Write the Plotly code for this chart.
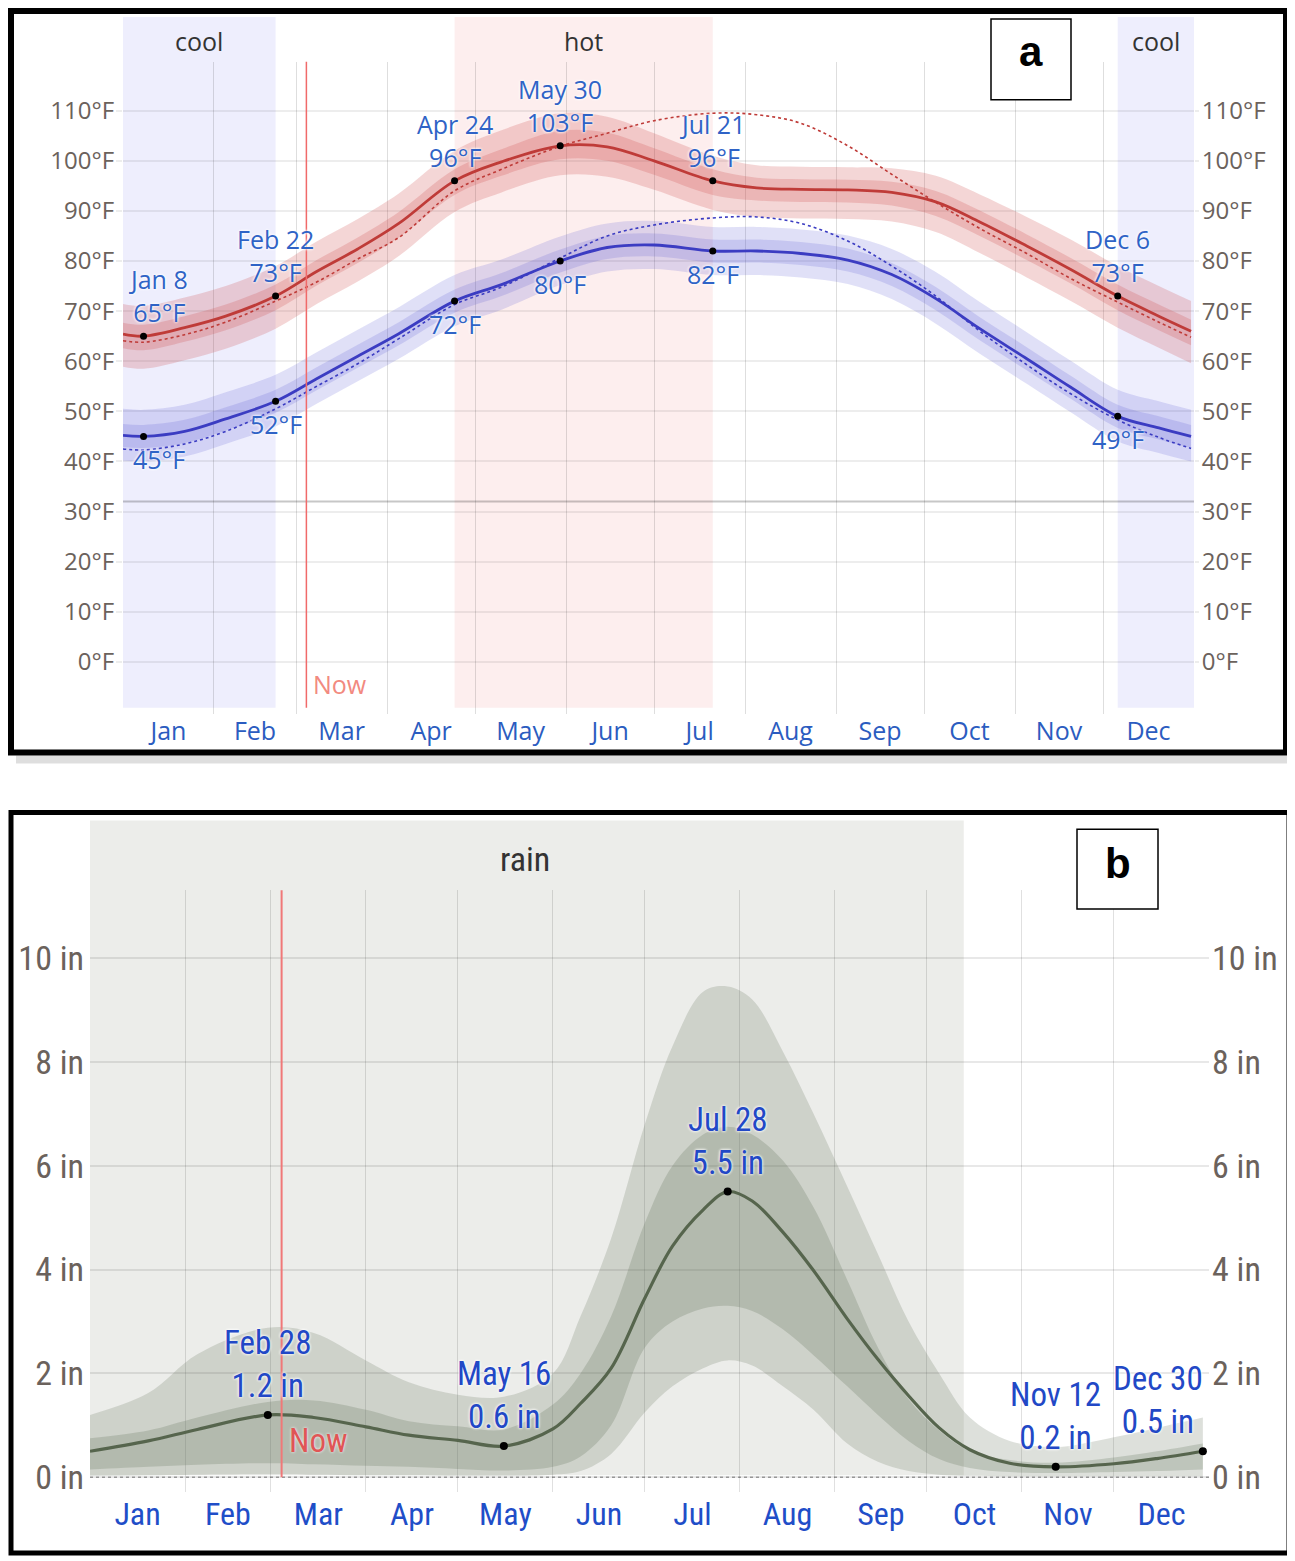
import plotly.graph_objects as go

# page body has an 8px margin, so the figure is drawn 8px smaller and coordinates are offset
OFF = 8
W, H = 1287, 1553

# ---------------- data: panel a (temperature, °F) ----------------
temp_dates = ["2023-01-01", "2023-01-08", "2023-01-22", "2023-02-05", "2023-02-22", "2023-03-08",
              "2023-03-22", "2023-04-05", "2023-04-24", "2023-05-10", "2023-05-30", "2023-06-15",
              "2023-07-01", "2023-07-21", "2023-08-05", "2023-08-20", "2023-09-05", "2023-09-20",
              "2023-10-05", "2023-10-20", "2023-11-05", "2023-11-20", "2023-12-06", "2023-12-20",
              "2023-12-31"]
high_avg = [65.4, 65, 66.7, 69, 73, 77.9, 82.4, 87.5, 96, 99.8, 103, 102.8, 100, 96, 94.6, 94.3,
            94.2, 93.7, 91.8, 87.8, 83, 78.3, 73, 69, 66]
high_p90 = [71.4, 71, 72.7, 75, 79, 83.9, 88.4, 93.5, 102, 106.1, 109.5, 108.8, 105.5, 101, 99.1,
            98.8, 98.7, 98.5, 97, 93.3, 88.8, 84.3, 79, 75, 72]
high_p75 = [67.7, 67.3, 69, 71.3, 75.3, 80.2, 84.7, 89.8, 98.3, 102.3, 106, 105.6, 102.5, 98.3,
            96.6, 96.3, 96.2, 95.8, 94, 90.1, 85.3, 80.6, 75.3, 71.3, 68.3]
high_p25 = [62.6, 62.2, 63.9, 66.2, 70.2, 75.1, 79.6, 84.7, 93.2, 97, 100.3, 100, 97.2, 93.2,
            92.1, 91.8, 91.7, 91.1, 89, 85, 80.2, 75.5, 70.2, 66.2, 63.2]
high_p10 = [58.9, 58.5, 60.2, 62.5, 66.5, 71.4, 75.9, 81, 89.8, 93.7, 97.1, 96.8, 94.2, 90.2,
            88.8, 88.5, 88.4, 87.9, 85.8, 81.6, 76.7, 72, 66.7, 62.7, 59.6]
low_avg = [45.2, 45, 46, 48.5, 52, 56.5, 61, 65.5, 72, 75.3, 80, 82.7, 83.2, 82, 82, 81.5, 80.2,
           77.3, 72.5, 66.5, 60.5, 54.8, 49, 46.7, 45]
low_p90 = [50.5, 50.3, 51.3, 53.8, 57.3, 61.8, 66.3, 70.8, 77.2, 80.3, 84.9, 87.5, 88, 86.8, 86.8,
           86.3, 85.1, 82.4, 77.8, 71.8, 65.8, 60.1, 54.3, 52, 50.3]
low_p75 = [47.5, 47.3, 48.3, 50.8, 54.3, 58.8, 63.3, 67.8, 74.3, 77.6, 82.3, 85, 85.5, 84.3, 84.3,
           83.8, 82.5, 79.6, 74.8, 68.8, 62.8, 57.1, 51.3, 49, 47.3]
low_p25 = [42.9, 42.7, 43.7, 46.2, 49.7, 54.2, 58.7, 63.2, 69.7, 73, 77.7, 80.4, 80.9, 79.7, 79.7,
           79.2, 77.9, 75, 70.2, 64.2, 58.2, 52.5, 46.7, 44.4, 42.7]
low_p10 = [40.2, 40, 41, 43.5, 47, 51.5, 56, 60.5, 67, 70.3, 75.2, 77.9, 78.4, 77.2, 77.2, 76.7,
           75.4, 72.4, 67.5, 61.5, 55.5, 49.8, 44, 41.7, 40]
feels_high = [64.1, 63.8, 65.3, 67.8, 72, 75.8, 80.4, 84.7, 94, 98.3, 102.9, 105.5, 108, 109.5,
              109.2, 107.5, 103, 97.3, 91.7, 86.5, 81.5, 76.5, 71.8, 67.8, 64.8]
feels_low = [42.5, 42.3, 43.5, 46, 50.5, 55, 59.5, 64.5, 71.3, 74.8, 80.6, 85, 87.2, 88.6, 88.8,
             87.5, 84, 79, 73, 66, 59.3, 53.5, 48.3, 44.8, 42.6]

temp_label_dates = ["2023-01-08", "2023-02-22", "2023-04-24", "2023-05-30", "2023-07-21", "2023-12-06"]
temp_label_names = ["Jan 8", "Feb 22", "Apr 24", "May 30", "Jul 21", "Dec 6"]
high_label_vals = [65, 73, 96, 103, 96, 73]
low_label_vals = [45, 52, 72, 80, 82, 49]

temp_ticks = [0, 10, 20, 30, 40, 50, 60, 70, 80, 90, 100, 110]
temp_tick_labels = ["0°F", "10°F", "20°F", "30°F", "40°F", "50°F", "60°F", "70°F", "80°F",
                    "90°F", "100°F", "110°F"]
freezing_f = 32

cool_seasons = [("2023-01-01", "2023-02-22"), ("2023-12-06", "2024-01-01")]
hot_season = ("2023-04-24", "2023-07-21")
season_labels = [("2023-01-27", "cool"), ("2023-06-07", "hot"), ("2023-12-19", "cool")]
now_date = "2023-03-04 12:00"

# ---------------- data: panel b (rainfall, inches) ----------------
rain_dates = ["2023-01-01", "2023-01-20", "2023-02-05", "2023-02-28", "2023-03-15", "2023-04-01",
              "2023-04-15", "2023-05-01", "2023-05-16", "2023-06-01", "2023-06-10", "2023-06-20",
              "2023-07-01", "2023-07-10", "2023-07-20", "2023-07-28", "2023-08-05", "2023-08-15",
              "2023-08-25", "2023-09-05", "2023-09-15", "2023-09-25", "2023-10-05", "2023-10-15",
              "2023-10-28", "2023-11-12", "2023-12-01", "2023-12-15", "2023-12-30"]
rain_avg = [0.5, 0.7, 0.92, 1.2, 1.15, 0.97, 0.81, 0.71, 0.6, 0.93, 1.42, 2.1, 3.45, 4.45, 5.15,
            5.5, 5.32, 4.72, 3.98, 3.05, 2.27, 1.57, 0.95, 0.53, 0.27, 0.2, 0.26, 0.36, 0.5]
rain_p90 = [1.2, 1.62, 2.37, 2.88, 2.78, 2.25, 1.83, 1.59, 1.55, 2.0, 3.1, 4.6, 6.8, 8.3, 9.35,
            9.45, 9.2, 8.2, 7.0, 5.6, 4.3, 3.0, 2.0, 1.15, 0.7, 0.58, 0.77, 0.95, 1.15]
rain_p75 = [0.75, 0.9, 1.15, 1.45, 1.48, 1.3, 1.08, 0.98, 0.92, 1.4, 2.0, 3.1, 4.9, 6.0, 6.6,
            6.75, 6.6, 6.1, 5.2, 3.8, 2.5, 1.5, 0.9, 0.5, 0.33, 0.28, 0.38, 0.5, 0.65]
rain_p25 = [0.15, 0.2, 0.24, 0.27, 0.25, 0.22, 0.2, 0.16, 0.13, 0.2, 0.4, 1.0, 2.5, 3.0, 3.25,
            3.3, 3.2, 2.85, 2.35, 1.75, 1.2, 0.7, 0.35, 0.18, 0.1, 0.08, 0.1, 0.12, 0.15]
rain_p10 = [0.03, 0.04, 0.05, 0.06, 0.05, 0.04, 0.04, 0.03, 0.03, 0.05, 0.12, 0.45, 1.25, 1.75,
            2.1, 2.25, 2.15, 1.75, 1.3, 0.65, 0.3, 0.12, 0.05, 0.03, 0.02, 0.02, 0.02, 0.02, 0.02]

rain_label_dates = ["2023-02-28", "2023-05-16", "2023-07-28", "2023-11-12", "2023-12-30"]
rain_label_names = ["Feb 28", "May 16", "Jul 28", "Nov 12", "Dec 30"]
rain_label_vals = [1.2, 0.6, 5.5, 0.2, 0.5]

rain_ticks = [0, 2, 4, 6, 8, 10]
rain_tick_labels = ["0 in", "2 in", "4 in", "6 in", "8 in", "10 in"]
rain_season = ("2023-01-01", "2023-10-13")
rain_season_label = ("2023-05-23", "rain")

# ---------------- styling ----------------
FA = "Open Sans, Noto Sans, sans-serif"
FB = "Roboto Condensed, Liberation Sans Narrow, DejaVu Sans Condensed, Open Sans, sans-serif"
FBOX = "Liberation Sans, Arial, sans-serif"
RED = "#bf3b38"
BLUE = "#3b3cc2"
GREEN = "#56654d"
TICK_GRAY = "#6b625c"
LBL_A = "#2f63c6"
LBL_B = "#2248c6"
SB_TICK, SB_MONTH, SB_LABEL = 34, 32, 33


def py(p):
    return 1 - (p - OFF) / H


def px(p):
    return (p - OFF) / W


fig = go.Figure()


def add_band(x, lo, hi, color, xa, ya):
    fig.add_trace(go.Scatter(x=x, y=lo, mode="lines", line=dict(width=0, shape="spline"),
                             xaxis=xa, yaxis=ya, showlegend=False, hoverinfo="skip"))
    fig.add_trace(go.Scatter(x=x, y=hi, mode="lines", line=dict(width=0, shape="spline"),
                             fill="tonexty", fillcolor=color, xaxis=xa, yaxis=ya,
                             showlegend=False, hoverinfo="skip"))


add_band(temp_dates, high_p10, high_p90, "rgba(205,70,70,0.22)", "x", "y")
add_band(temp_dates, high_p25, high_p75, "rgba(205,70,70,0.22)", "x", "y")
add_band(temp_dates, low_p10, low_p90, "rgba(70,70,205,0.17)", "x", "y")
add_band(temp_dates, low_p25, low_p75, "rgba(70,70,205,0.17)", "x", "y")

for vals, col in [(feels_high, RED), (feels_low, BLUE)]:
    fig.add_trace(go.Scatter(x=temp_dates, y=vals, mode="lines",
                             line=dict(color=col, width=1.6, dash="dot", shape="spline"),
                             xaxis="x", yaxis="y", showlegend=False, hoverinfo="skip"))
for vals, col in [(high_avg, RED), (low_avg, BLUE)]:
    fig.add_trace(go.Scatter(x=temp_dates, y=vals, mode="lines",
                             line=dict(color=col, width=2.8, shape="spline"),
                             xaxis="x", yaxis="y", showlegend=False))
fig.add_trace(go.Scatter(x=temp_label_dates + temp_label_dates, y=high_label_vals + low_label_vals,
                         mode="markers", marker=dict(color="black", size=7),
                         xaxis="x", yaxis="y", showlegend=False))
fig.add_trace(go.Scatter(x=[temp_dates[0]], y=[None], xaxis="x", yaxis="y3", showlegend=False,
                         hoverinfo="skip"))

add_band(rain_dates, rain_p10, rain_p90, "rgba(100,115,90,0.22)", "x2", "y2")
add_band(rain_dates, rain_p25, rain_p75, "rgba(100,115,90,0.25)", "x2", "y2")
fig.add_trace(go.Scatter(x=rain_dates, y=rain_avg, mode="lines",
                         line=dict(color=GREEN, width=3.2, shape="spline"),
                         xaxis="x2", yaxis="y2", showlegend=False))
fig.add_trace(go.Scatter(x=rain_label_dates, y=rain_label_vals, mode="markers",
                         marker=dict(color="black", size=8), xaxis="x2", yaxis="y2",
                         showlegend=False))
fig.add_trace(go.Scatter(x=[rain_dates[0]], y=[None], xaxis="x2", yaxis="y4", showlegend=False,
                         hoverinfo="skip"))

date_axis = dict(type="date", tickmode="linear", tick0="2023-01-01", dtick="M1",
                 ticklabelmode="period", tickformat="%b", showgrid=True, zeroline=False,
                 showline=False, ticks="", fixedrange=True)

temp_range = [(664 - 716) / 5.027, (664 - 62) / 5.027]
rain_range = [-0.288, 11.305]

fig.update_layout(
    width=W, height=H, autosize=False,
    margin=dict(l=0, r=0, t=0, b=0),
    paper_bgcolor="white", plot_bgcolor="rgba(0,0,0,0)",
    showlegend=False,
    xaxis=dict(date_axis, domain=[px(123), px(1194)], anchor="y",
               range=["2023-01-01", "2024-01-01"],
               gridcolor="rgba(0,0,0,0.13)", gridwidth=1,
               tickfont=dict(family=FA, size=25, color="#2b5cc0")),
    yaxis=dict(domain=[py(716), py(62)], range=temp_range, anchor="x",
               tickmode="array", tickvals=temp_ticks, ticktext=temp_tick_labels,
               showgrid=True, gridcolor="rgba(0,0,0,0.07)", gridwidth=2, zeroline=False,
               ticks="outside", ticklen=6, tickwidth=2, tickcolor="rgba(0,0,0,0.07)",
               ticklabelstandoff=-3,
               tickfont=dict(family=FA, size=24, color=TICK_GRAY), fixedrange=True),
    yaxis3=dict(overlaying="y", side="right", anchor="x", range=temp_range,
                tickmode="array", tickvals=temp_ticks, ticktext=temp_tick_labels,
                showgrid=False, zeroline=False, ticks="outside", ticklen=4, tickwidth=2,
                tickcolor="rgba(0,0,0,0.07)", ticklabelstandoff=-2,
                tickfont=dict(family=FA, size=24, color=TICK_GRAY), fixedrange=True),
    xaxis2=dict(date_axis, domain=[px(90), px(1209)], anchor="y2",
                range=["2023-01-01", "2024-01-01"],
                gridcolor="rgba(0,0,0,0.12)", gridwidth=1,
                tickfont=dict(family=FB, size=SB_MONTH, color="#1f4ec8")),
    yaxis2=dict(domain=[py(1497), py(893)], range=rain_range, anchor="x2",
                tickmode="array", tickvals=rain_ticks, ticktext=rain_tick_labels,
                showgrid=True, gridcolor="rgba(0,0,0,0.09)", gridwidth=2, zeroline=False,
                ticks="", ticklabelstandoff=5,
                tickfont=dict(family=FB, size=SB_TICK, color=TICK_GRAY), fixedrange=True),
    yaxis4=dict(overlaying="y2", side="right", anchor="x2", range=rain_range,
                tickmode="array", tickvals=rain_ticks, ticktext=rain_tick_labels,
                showgrid=False, zeroline=False, ticks="", ticklabelstandoff=2,
                tickfont=dict(family=FB, size=SB_TICK, color=TICK_GRAY), fixedrange=True),
)

shapes = []
for s0, s1 in cool_seasons:
    shapes.append(dict(type="rect", xref="x", yref="paper", x0=s0, x1=s1, y0=py(710), y1=py(17),
                       fillcolor="#eeeefd", line=dict(width=0), layer="below"))
shapes.append(dict(type="rect", xref="x", yref="paper", x0=hot_season[0], x1=hot_season[1],
                   y0=py(710), y1=py(17), fillcolor="#fdeeee", line=dict(width=0), layer="below"))
shapes.append(dict(type="rect", xref="x2", yref="paper", x0=rain_season[0], x1=rain_season[1],
                   y0=py(1480), y1=py(823), fillcolor="#ecedea", line=dict(width=0), layer="below"))
shapes.append(dict(type="line", xref="x", yref="y", x0="2023-01-01", x1="2024-01-01",
                   y0=freezing_f, y1=freezing_f, line=dict(color="rgba(0,0,0,0.22)", width=2),
                   layer="between"))
shapes.append(dict(type="line", xref="x2", yref="y2", x0="2023-01-01", x1="2024-01-01",
                   y0=0, y1=0, line=dict(color="rgba(0,0,0,0.35)", width=1.5, dash="dot"),
                   layer="between"))
shapes.append(dict(type="line", xref="x", yref="paper", x0=now_date, x1=now_date,
                   y0=py(710), y1=py(62), line=dict(color="#f06a6a", width=1.5), layer="above"))
shapes.append(dict(type="line", xref="x2", yref="paper", x0=now_date, x1=now_date,
                   y0=py(1482), y1=py(893), line=dict(color="#f07878", width=2), layer="above"))
shapes.append(dict(type="line", xref="paper", yref="paper", x0=px(16), x1=px(1292),
                   y0=py(762), y1=py(762), line=dict(color="rgba(0,0,0,0.13)", width=8),
                   layer="above"))
shapes.append(dict(type="line", xref="paper", yref="paper", x0=px(1291), x1=px(1291),
                   y0=py(762), y1=py(18), line=dict(color="rgba(0,0,0,0.10)", width=5),
                   layer="above"))
shapes.append(dict(type="rect", xref="paper", yref="paper", x0=px(11), x1=px(1286),
                   y0=py(755), y1=py(11), line=dict(color="black", width=6),
                   fillcolor="rgba(0,0,0,0)", layer="above"))
shapes.append(dict(type="rect", xref="paper", yref="paper", x0=px(11), x1=px(1289),
                   y0=py(1558), y1=py(815), line=dict(color="black", width=5),
                   fillcolor="rgba(0,0,0,0)", layer="above"))
shapes.append(dict(type="rect", xref="paper", yref="paper", x0=px(991), x1=px(1071),
                   y0=py(100), y1=py(19), line=dict(color="black", width=1.5),
                   fillcolor="white", layer="above"))
shapes.append(dict(type="rect", xref="paper", yref="paper", x0=px(1077), x1=px(1158),
                   y0=py(912), y1=py(832), line=dict(color="black", width=1.5),
                   fillcolor="white", layer="above"))
fig.update_layout(shapes=shapes)

ann = []
ann.append(dict(xref="paper", yref="paper", x=px(1031), y=py(52), text="<b>a</b>",
                xanchor="center", yanchor="middle", showarrow=False,
                font=dict(family=FBOX, size=42, color="black")))
ann.append(dict(xref="paper", yref="paper", x=px(1117.5), y=py(866), text="<b>b</b>",
                xanchor="center", yanchor="middle", showarrow=False,
                font=dict(family=FBOX, size=42, color="black")))
for d, txt in season_labels:
    ann.append(dict(xref="x", yref="paper", x=d, y=py(41), text=txt, xanchor="center",
                    yanchor="middle", showarrow=False,
                    font=dict(family=FA, size=25, color="#333333")))
ann.append(dict(xref="x2", yref="paper", x=rain_season_label[0], y=py(862),
                text=rain_season_label[1], xanchor="center", yanchor="middle",
                showarrow=False, font=dict(family=FB, size=SB_LABEL + 1, color="#333333")))
ann.append(dict(xref="x", yref="paper", x=now_date, y=py(686), text="Now", xanchor="left",
                yanchor="middle", xshift=5, showarrow=False,
                font=dict(family=FA, size=25, color="#f28a80")))
ann.append(dict(xref="x2", yref="paper", x=now_date, y=py(1445), text="Now", xanchor="left",
                yanchor="middle", xshift=5, showarrow=False,
                font=dict(family=FB, size=SB_LABEL, color="#e05555", shadow="0px 0px 3px white")))

glow = "0px 0px 3px white, 0px 0px 3px white"
for d, name, hv, lv in zip(temp_label_dates, temp_label_names, high_label_vals, low_label_vals):
    xs = 15 if name == "Jan 8" else 0
    ann.append(dict(xref="x", yref="y", x=d, y=hv, text=f"{name}<br>{hv}°F", showarrow=False,
                    xanchor="center", yanchor="bottom", yshift=5, xshift=xs,
                    font=dict(family=FA, size=25, color=LBL_A, shadow=glow)))
    ann.append(dict(xref="x", yref="y", x=d, y=lv, text=f"{lv}°F", showarrow=False,
                    xanchor="center", yanchor="top", yshift=-4, xshift=xs,
                    font=dict(family=FA, size=25, color=LBL_A, shadow=glow)))
for d, name, v in zip(rain_label_dates, rain_label_names, rain_label_vals):
    xs = -45 if name == "Dec 30" else 0
    ann.append(dict(xref="x2", yref="y2", x=d, y=v, text=f"{name}<br>{v} in", showarrow=False,
                    xanchor="center", yanchor="bottom", yshift=8, xshift=xs,
                    font=dict(family=FB, size=SB_LABEL, color=LBL_B, shadow=glow)))
fig.update_layout(annotations=ann)

fig.write_html("out.html")
